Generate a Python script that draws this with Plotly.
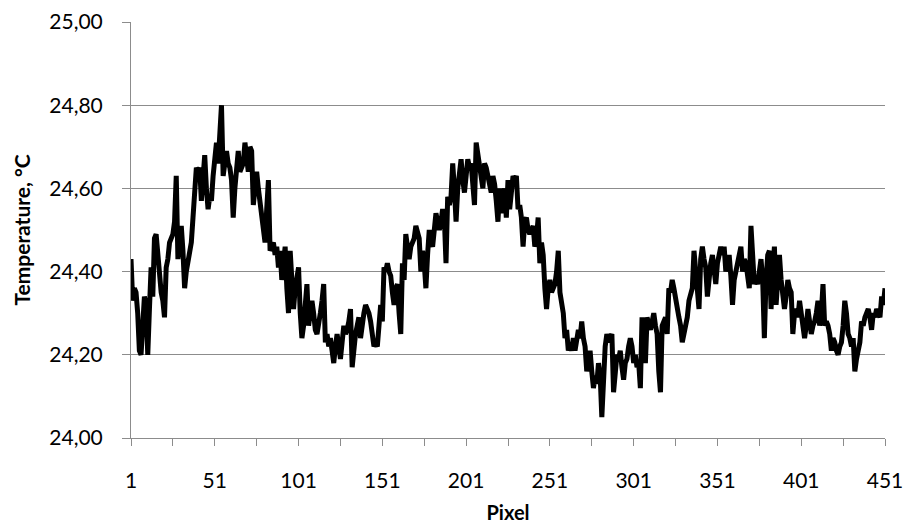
import plotly.graph_objects as go

# Temperature readings (°C) per pixel
temp_001_090 = [
    24.43, 24.33, 24.36, 24.35, 24.30, 24.21, 24.20, 24.28, 24.34, 24.32,
    24.20, 24.31, 24.41, 24.34, 24.48, 24.49, 24.44, 24.37, 24.35, 24.33,
    24.29, 24.41, 24.43, 24.47, 24.48, 24.49, 24.52, 24.63, 24.43, 24.47,
    24.51, 24.45, 24.36, 24.40, 24.42, 24.45, 24.47, 24.53, 24.60, 24.65,
    24.64, 24.65, 24.57, 24.62, 24.68, 24.60, 24.55, 24.58, 24.57, 24.63,
    24.67, 24.71, 24.66, 24.72, 24.80, 24.63, 24.66, 24.69, 24.66, 24.65,
    24.62, 24.53, 24.60, 24.66, 24.69, 24.64, 24.65, 24.66, 24.71, 24.67,
    24.64, 24.70, 24.69, 24.56, 24.62, 24.64, 24.60, 24.57, 24.53, 24.50,
    24.47, 24.55, 24.62, 24.45, 24.46, 24.47, 24.44, 24.46, 24.41, 24.45,
]
temp_091_180 = [
    24.38, 24.42, 24.46, 24.36, 24.30, 24.45, 24.37, 24.31, 24.36, 24.38,
    24.41, 24.30, 24.24, 24.27, 24.32, 24.37, 24.27, 24.30, 24.33, 24.30,
    24.26, 24.25, 24.27, 24.30, 24.33, 24.37, 24.23, 24.25, 24.22, 24.24,
    24.21, 24.18, 24.22, 24.25, 24.22, 24.19, 24.23, 24.27, 24.25, 24.26,
    24.28, 24.31, 24.17, 24.22, 24.25, 24.27, 24.29, 24.24, 24.28, 24.30,
    24.32, 24.31, 24.30, 24.28, 24.25, 24.22, 24.23, 24.22, 24.27, 24.32,
    24.28, 24.41, 24.40, 24.42, 24.40, 24.39, 24.35, 24.32, 24.36, 24.37,
    24.30, 24.25, 24.42, 24.38, 24.49, 24.45, 24.43, 24.46, 24.47, 24.48,
    24.51, 24.49, 24.48, 24.40, 24.45, 24.42, 24.36, 24.44, 24.50, 24.47,
]
temp_181_270 = [
    24.46, 24.50, 24.54, 24.52, 24.50, 24.52, 24.55, 24.53, 24.42, 24.58,
    24.56, 24.58, 24.66, 24.60, 24.52, 24.60, 24.64, 24.67, 24.62, 24.59,
    24.63, 24.67, 24.65, 24.66, 24.61, 24.56, 24.71, 24.68, 24.66, 24.62,
    24.60, 24.66, 24.65, 24.63, 24.60, 24.59, 24.63, 24.61, 24.57, 24.52,
    24.60, 24.54, 24.58, 24.60, 24.53, 24.62, 24.55, 24.58, 24.63, 24.62,
    24.63, 24.55, 24.56, 24.53, 24.46, 24.52, 24.53, 24.50, 24.49, 24.50,
    24.51, 24.46, 24.48, 24.53, 24.42, 24.47, 24.44, 24.36, 24.31, 24.36,
    24.38, 24.35, 24.36, 24.37, 24.40, 24.45, 24.35, 24.32, 24.30, 24.24,
    24.26, 24.21, 24.23, 24.21, 24.24, 24.21, 24.25, 24.26, 24.24, 24.28,
]
temp_271_360 = [
    24.24, 24.22, 24.16, 24.19, 24.21, 24.16, 24.12, 24.15, 24.13, 24.18,
    24.15, 24.05, 24.14, 24.22, 24.25, 24.23, 24.24, 24.25, 24.11, 24.17,
    24.20, 24.19, 24.21, 24.17, 24.14, 24.18, 24.19, 24.22, 24.24, 24.22,
    24.18, 24.20, 24.17, 24.18, 24.12, 24.29, 24.22, 24.18, 24.29, 24.27,
    24.26, 24.28, 24.30, 24.27, 24.25, 24.16, 24.11, 24.27, 24.28, 24.29,
    24.25, 24.36, 24.35, 24.38, 24.36, 24.33, 24.32, 24.29, 24.27, 24.23,
    24.25, 24.27, 24.29, 24.33, 24.35, 24.36, 24.45, 24.40, 24.38, 24.31,
    24.43, 24.46, 24.43, 24.41, 24.34, 24.40, 24.42, 24.44, 24.41, 24.37,
    24.42, 24.44, 24.46, 24.44, 24.46, 24.40, 24.42, 24.44, 24.39, 24.32,
]
temp_361_451 = [
    24.38, 24.40, 24.42, 24.44, 24.46, 24.40, 24.43, 24.42, 24.39, 24.36,
    24.51, 24.40, 24.37, 24.38, 24.37, 24.40, 24.43, 24.38, 24.24, 24.38,
    24.44, 24.45, 24.31, 24.40, 24.46, 24.32, 24.38, 24.44, 24.38, 24.35,
    24.31, 24.34, 24.38, 24.36, 24.35, 24.25, 24.30, 24.31, 24.29, 24.33,
    24.30, 24.28, 24.24, 24.27, 24.31, 24.28, 24.25, 24.27, 24.28, 24.30,
    24.33, 24.27, 24.30, 24.37, 24.27, 24.28, 24.27, 24.25, 24.21, 24.24,
    24.23, 24.21, 24.20, 24.22, 24.23, 24.27, 24.33, 24.30, 24.25, 24.24,
    24.22, 24.24, 24.16, 24.19, 24.21, 24.23, 24.28, 24.27, 24.29, 24.30,
    24.31, 24.29, 24.26, 24.30, 24.29, 24.31, 24.30, 24.29, 24.34, 24.32,
    24.36,
]

temperature = temp_001_090 + temp_091_180 + temp_181_270 + temp_271_360 + temp_361_451
pixels = list(range(1, len(temperature) + 1))

x_tick_labels = [1, 51, 101, 151, 201, 251, 301, 351, 401, 451]
y_tick_values = [24.0, 24.2, 24.4, 24.6, 24.8, 25.0]

GRID = "#8c8c8c"
FONT = "Lato"

fig = go.Figure()
fig.add_trace(go.Scatter(
    x=pixels, y=temperature, mode="lines",
    line=dict(color="black", width=5),
    showlegend=False, hoverinfo="skip",
))

fig.update_layout(
    width=903, height=530,
    margin=dict(l=131, r=18, t=22, b=92, autoexpand=False),
    paper_bgcolor="white", plot_bgcolor="white",
    separators=", ",
    font=dict(family=FONT, size=21, color="black"),
    xaxis=dict(
        range=[1, 451],
        tickmode="array", tickvals=x_tick_labels,
        ticktext=[str(v) for v in x_tick_labels],
        ticks="outside", ticklen=7, tickcolor=GRID, tickwidth=1,
        minor=dict(tickmode="linear", tick0=1, dtick=25, ticks="outside",
                   ticklen=7, tickcolor=GRID, tickwidth=1, showgrid=False),
        showline=True, linecolor=GRID, linewidth=1,
        showgrid=False, zeroline=False,
        ticklabelstandoff=17,
        ticklabeloverflow="allow",
        automargin=False,
        tickfont=dict(family=FONT, size=21, color="black"),
        title=dict(text="<b>Pixel</b>", standoff=14,
                   font=dict(family=FONT, size=20, color="black")),
    ),
    yaxis=dict(
        range=[24, 25],
        tickmode="array", tickvals=y_tick_values,
        tickformat=".2f",
        ticks="outside", ticklen=8, tickcolor=GRID, tickwidth=1,
        showline=True, linecolor=GRID, linewidth=1,
        showgrid=True, gridcolor=GRID, gridwidth=1,
        zeroline=False,
        ticklabelstandoff=15,
        automargin=False,
        tickfont=dict(family=FONT, size=21, color="black"),
        title=dict(text="<b>Temperature, °C</b>", standoff=12,
                   font=dict(family=FONT, size=21, color="black")),
    ),
)

fig.write_html(
    "out.html",
    config={"displayModeBar": False},
    post_script="document.body.style.margin='0';document.body.style.padding='0';",
)
